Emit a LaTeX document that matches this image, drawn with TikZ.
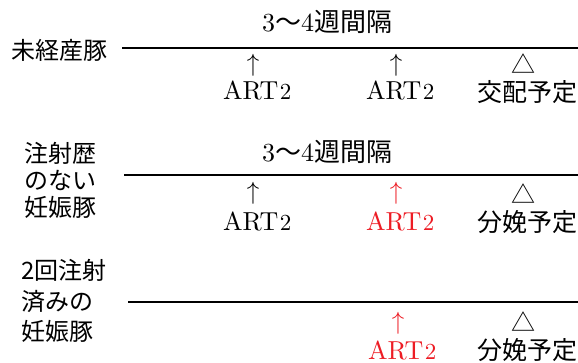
\documentclass[tikz,border=0pt]{standalone}
\usepackage{fontspec}
\setmainfont{lmroman10-regular.otf}
\newfontfamily\jp{Noto Sans CJK JP}
\definecolor{artred}{RGB}{237,28,36}
\newcommand\artnum{\kern1.5pt{\fontsize{23}{26}\selectfont 2}}
\begin{document}
\begin{tikzpicture}[x=1pt,y=-1pt,
  every node/.style={inner sep=0pt},
  lbl/.style={font=\fontsize{24}{#1}\selectfont\jp, align=left, anchor=west},
  lbl/.default=30,
  timeline/.style={line width=1.8pt},
  interval/.style={font=\fontsize{26}{30}\selectfont},
  upmark/.style={font=\fontsize{26}{30}\selectfont},
  art/.style={font=\fontsize{26}{30}\selectfont, anchor=base west},
  ev/.style={font=\fontsize{25}{30}\selectfont\jp},
  tri/.style={font=\fontsize{24}{28}\selectfont\jp},
  hot/.style={text=artred}]
\useasboundingbox (0,0) rectangle (578,363);
% Row 1
\node[lbl] (l1) at (11,50) {未経産豚};
\coordinate (s1) at (122,48); \coordinate (e1) at (578,48);
\draw[timeline] (s1) -- (e1);
\node[interval] (i1) at (327,22) {3{\jp 〜}4{\jp 週間隔}};
\node[upmark] (u11) at (253,65) {$\uparrow$};
\node[art] (a11) at (223,100) {ART\artnum};
\node[upmark] (u12) at (396,65) {$\uparrow$};
\node[art] (a12) at (366,100) {ART\artnum};
\node[tri] (t1) at (523,64) {△};
\node[ev] (v1) at (527,92) {交配予定};
% Row 2
\node[lbl=27] (l2) at (24,180) {注射歴\\のない\\妊娠豚};
\coordinate (s2) at (124,175); \coordinate (e2) at (578,175);
\draw[timeline] (s2) -- (e2);
\node[interval] (i2) at (327,152) {3{\jp 〜}4{\jp 週間隔}};
\node[upmark] (u21) at (253,193.5) {$\uparrow$};
\node[art] (a21) at (223,231) {ART\artnum};
\node[upmark,hot] (u22) at (396,193.5) {$\uparrow$};
\node[art,hot] (a22) at (366,231) {ART\artnum};
\node[tri] (t2) at (523,194) {△};
\node[ev] (v2) at (527,222) {分娩予定};
% Row 3
\node[lbl=30.5] (l3) at (21,301) {2回注射\\済みの\\妊娠豚};
\coordinate (s3) at (128,302); \coordinate (e3) at (578,302);
\draw[timeline] (s3) -- (e3);
\node[upmark,hot] (u32) at (398,323.5) {$\uparrow$};
\node[art,hot] (a32) at (368,359) {ART\artnum};
\node[tri] (t3) at (523,322) {△};
\node[ev] (v3) at (527,350) {分娩予定};
\end{tikzpicture}
\end{document}
